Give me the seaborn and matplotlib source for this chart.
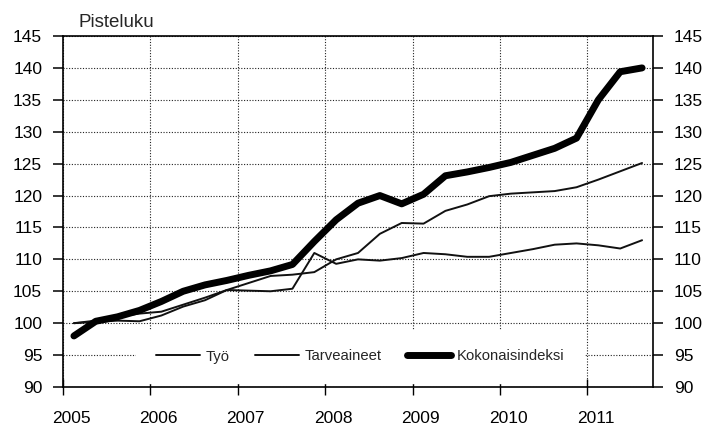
import matplotlib
matplotlib.use("Agg")
import matplotlib.pyplot as plt
from matplotlib.transforms import ScaledTranslation
import seaborn as sns
import pandas as pd

# quarterly observations 2005Q1 .. 2011Q3
quarters = ["2005Q1", "2005Q2", "2005Q3", "2005Q4",
            "2006Q1", "2006Q2", "2006Q3", "2006Q4",
            "2007Q1", "2007Q2", "2007Q3", "2007Q4",
            "2008Q1", "2008Q2", "2008Q3", "2008Q4",
            "2009Q1", "2009Q2", "2009Q3", "2009Q4",
            "2010Q1", "2010Q2", "2010Q3", "2010Q4",
            "2011Q1", "2011Q2", "2011Q3"]

tyo = [100.0, 100.2, 100.4, 100.3,
       101.2, 102.6, 103.6, 105.2,
       106.3, 107.4, 107.6, 108.0,
       110.0, 111.0, 114.0, 115.7,
       115.6, 117.6, 118.6, 119.9,
       120.3, 120.5, 120.7, 121.3,
       122.5, 123.8, 125.1]

tarveaineet = [100.0, 100.4, 101.0, 101.5,
               101.8, 102.9, 104.0, 105.2,
               105.1, 105.0, 105.4, 111.0,
               109.3, 110.0, 109.8, 110.2,
               111.0, 110.8, 110.4, 110.4,
               111.0, 111.6, 112.3, 112.5,
               112.2, 111.7, 113.0]

kokonais = [98.0, 100.3, 101.0, 102.0,
            103.4, 105.0, 106.0, 106.7,
            107.5, 108.2, 109.2, 112.8,
            116.2, 118.8, 120.0, 118.7,
            120.2, 123.1, 123.7, 124.4,
            125.2, 126.3, 127.4, 129.0,
            135.0, 139.4, 140.0]

year_ticks = [2005, 2006, 2007, 2008, 2009, 2010, 2011]
y_ticks = [90, 95, 100, 105, 110, 115, 120, 125, 130, 135, 140, 145]

def q_to_x(q):
    y, n = q.split("Q")
    return int(y) + (int(n) - 0.5) / 4.0

df = pd.DataFrame({"t": [q_to_x(q) for q in quarters],
                   "Työ": tyo, "Tarveaineet": tarveaineet,
                   "Kokonaisindeksi": kokonais})

sns.set_style("white")
plt.rcParams["font.family"] = ["Liberation Sans", "DejaVu Sans"]

fig = plt.figure(figsize=(7.07, 4.28), dpi=100)
ax = fig.add_axes([63/707, 1-387/428, 590/707, 351/428])

sns.lineplot(data=df, x="t", y="Työ", ax=ax, color="#111111", lw=1.4, label="Työ")
sns.lineplot(data=df, x="t", y="Tarveaineet", ax=ax, color="#111111", lw=1.4, label="Tarveaineet")
sns.lineplot(data=df, x="t", y="Kokonaisindeksi", ax=ax, color="#000000", lw=5.0,
             label="Kokonaisindeksi", solid_capstyle="round")

ax.set_xlim(2005, 2011.75)
ax.set_ylim(90, 145)
ax.set_xticks(year_ticks)
ax.set_xticklabels([str(y) for y in year_ticks])
ax.set_yticks(y_ticks)
ax.set_yticklabels([str(v) for v in y_ticks])
ax.set_xlabel("")
ax.set_ylabel("")

for s in ax.spines.values():
    s.set_color("black")
    s.set_linewidth(1.2)
    s.set_visible(True)

ax.grid(True, which="major", color="#222222", linestyle=(0, (1, 1.5)), linewidth=0.8)
ax.set_axisbelow(True)

ax.tick_params(axis="y", which="major", direction="out", length=7, width=1.1,
               labelsize=12.5, pad=8, left=True, right=True,
               labelleft=True, labelright=True, colors="black")
ax.tick_params(axis="x", which="major", direction="inout", length=12, width=1.0,
               labelsize=12.5, pad=11, bottom=True, colors="black")

offset = ScaledTranslation(8/100, 0, fig.dpi_scale_trans)
for lab in ax.get_xticklabels():
    lab.set_transform(lab.get_transform() + offset)

leg = ax.legend(loc="center", bbox_to_anchor=((360-63)/590, (387-356.5)/351),
                ncol=3, frameon=True, fontsize=10.7, handlelength=3.0,
                handletextpad=0.35, columnspacing=1.7, borderpad=1.3,
                fancybox=False)
leg.get_frame().set_facecolor("white")
leg.get_frame().set_edgecolor("white")
leg.get_frame().set_alpha(1.0)

fig.text(78/707, 1-27/428, "Pisteluku", fontsize=13.5, ha="left", va="baseline")

fig.savefig("out.png", dpi=100)
